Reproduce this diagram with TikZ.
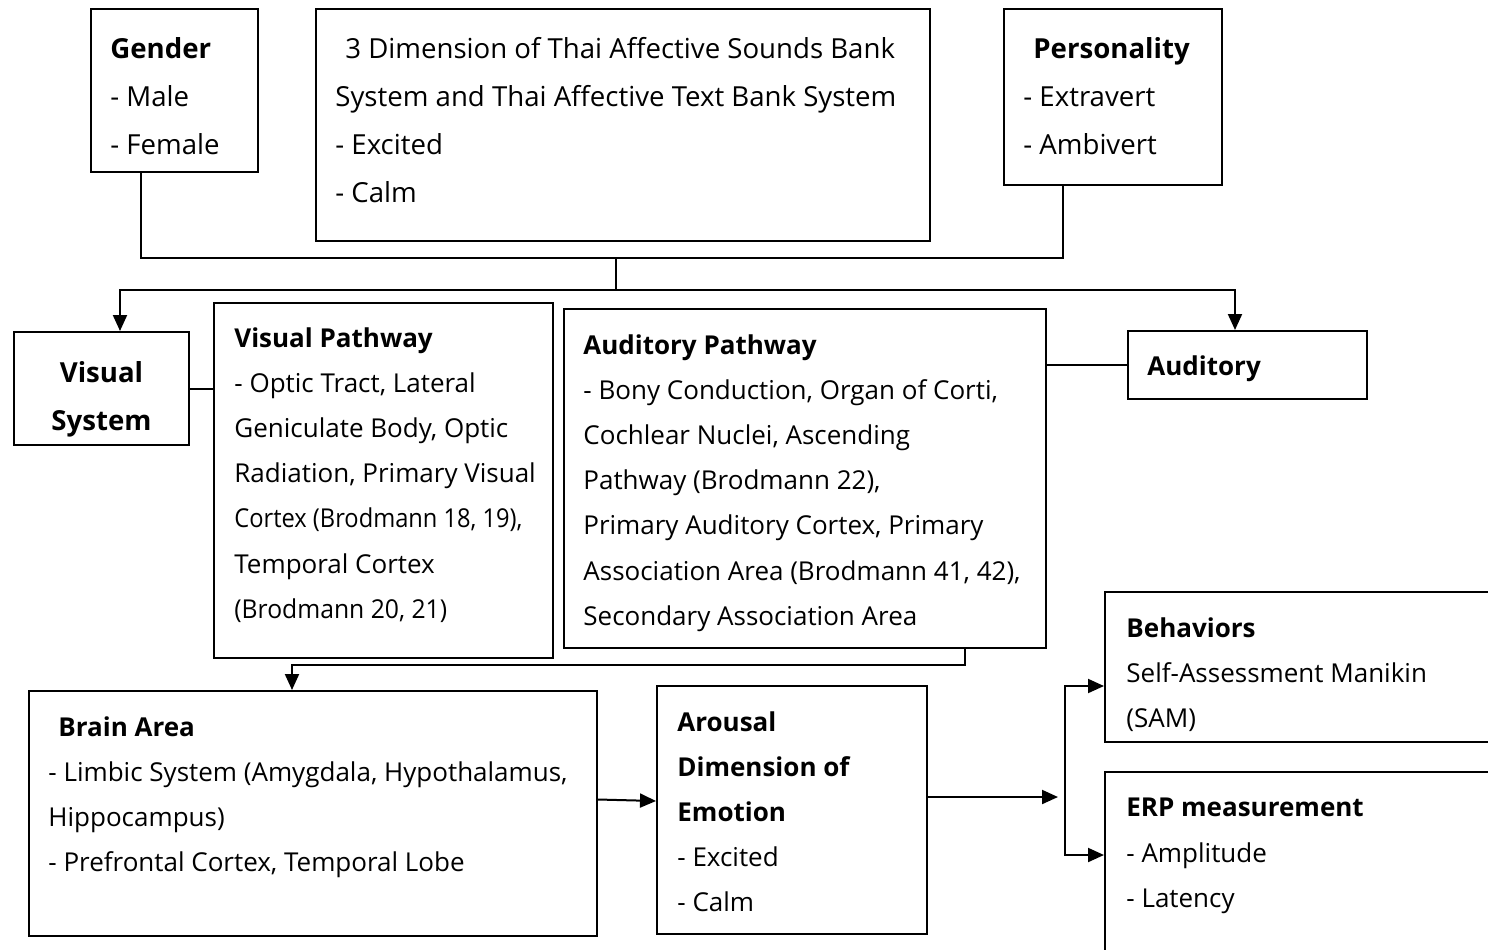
\documentclass[tikz,border=0pt]{standalone}
\usepackage{fontspec}
\setmainfont{Open Sans}
\usetikzlibrary{arrows.meta}
\tikzset{
	frame/.style={draw, line width=1pt, anchor=north west, inner sep=0pt},
	txt/.style={anchor=north west, inner sep=0pt, align=left, font=\fontsize{13}{22.6}\selectfont, execute at begin node={\rule{0pt}{10pt}}},
	wide/.style={font=\fontsize{13.8}{24}\selectfont},
	tip/.style={line width=1pt, -{Triangle[length=8pt,width=7pt]}},
	wire/.style={line width=1pt},
}

\begin{document}
\begin{tikzpicture}[x=0.5pt,y=0.5pt,yscale=-1,xscale=1]
	\useasboundingbox (0,0) rectangle (1488,949);
	\clip (0,0) rectangle (1488,949);
	\node [frame, minimum width=83.5pt, minimum height=81.5pt] (gender) at (90,8) {};
	\node [frame, minimum width=307pt, minimum height=116pt] (dims) at (315,8) {};
	\node [frame, minimum width=109pt, minimum height=88pt] (person) at (1003,8) {};
	\node [frame, minimum width=87.5pt, minimum height=56.5pt] (vissys) at (13,331) {};
	\node [frame, minimum width=169.5pt, minimum height=177.5pt] (vispath) at (213,302) {};
	\node [frame, minimum width=241pt, minimum height=169.5pt] (audpath) at (563,308) {};
	\node [frame, minimum width=119.5pt, minimum height=34pt] (auditory) at (1127,330) {};
	\node [frame, minimum width=284pt, minimum height=122.5pt] (brain) at (28,690) {};
	\node [frame, minimum width=135pt, minimum height=124pt] (arousal) at (656,685) {};
	\node [frame, minimum width=198pt, minimum height=75pt] (behav) at (1104,591) {};
	\node [frame, minimum width=198pt, minimum height=115pt] (erp) at (1104,771) {};
	\node [txt, wide] (gendertext) at ([shift={(20,29)}]gender.north west) {\textbf{Gender}\\- Male\\- Female};
	\node [txt, wide] (dimstext) at ([shift={(20,29)}]dims.north west) {\hspace*{5pt}3 Dimension of Thai Affective Sounds Bank\\System and Thai Affective Text Bank System\\- Excited\\- Calm};
	\node [txt, wide] (persontext) at ([shift={(20,29)}]person.north west) {\hspace*{5pt}\textbf{Personality}\\- Extravert\\- Ambivert};
	\node [txt, wide, anchor=north, align=center] (vissystext) at ([shift={(0,30)}]vissys.north) {\textbf{Visual}\\\textbf{System}};
	\node [txt] (vispathtext) at ([shift={(21,25)}]vispath.north west) {\textbf{Visual Pathway}\\- Optic Tract, Lateral\\Geniculate Body, Optic\\Radiation, Primary Visual\\\scalebox{0.91}[1]{Cortex (Brodmann 18, 19),}\\Temporal Cortex\\\scalebox{0.95}[1]{(Brodmann 20, 21)}};
	\node [txt] (audpathtext) at ([shift={(20,26)}]audpath.north west) {\textbf{Auditory Pathway}\\- Bony Conduction, Organ of Corti,\\Cochlear Nuclei, Ascending\\Pathway (Brodmann 22),\\Primary Auditory Cortex, Primary\\Association Area (Brodmann 41, 42),\\Secondary Association Area};
	\node [txt] (auditorytext) at ([shift={(20,25)}]auditory.north west) {\textbf{Auditory}};
	\node [txt] (braintext) at ([shift={(20,26)}]brain.north west) {\hspace*{5pt}\textbf{Brain Area}\\- Limbic System (Amygdala, Hypothalamus,\\Hippocampus)\\- Prefrontal Cortex, Temporal Lobe};
	\node [txt] (arousaltext) at ([shift={(21,26)}]arousal.north west) {\textbf{Arousal}\\\textbf{Dimension of}\\\textbf{Emotion}\\- Excited\\- Calm};
	\node [txt] (behavtext) at ([shift={(22,26)}]behav.north west) {\textbf{Behaviors}\\Self-Assessment Manikin\\(SAM)};
	\node [txt] (erptext) at ([shift={(22,27)}]erp.north west) {\textbf{ERP measurement}\\- Amplitude\\- Latency};
	\coordinate (jl) at (141,258);
	\coordinate (jr) at (1063,258);
	\coordinate (jm) at (616,258);
	\coordinate (split) at (616,290);
	\coordinate (fork) at (1058,797);
	\coordinate (bus) at (1065,797);
	\draw [wire] (gender.south -| jl) -- (jl) -- (jr) -- (person.south -| jr);
	\draw [wire] (jm) -- (split);
	\draw [tip] (split) -| ([shift={(107,0)}]vissys.north west);
	\draw [tip] (split) -| ([shift={(108,0)}]auditory.north west);
	\draw [wire] (vissys.east) -- (vissys.east -| vispath.west);
	\draw [wire] (auditory.west) -- (auditory.west -| audpath.east);
	\draw [tip] ([shift={(402,0)}]audpath.south west) -- ++(0,16) -| ([shift={(264,0)}]brain.north west);
	\draw [tip] ([shift={(0,-14)}]brain.east) -- ([shift={(0,-9)}]arousal.west);
	\draw [tip] (arousal.east |- fork) -- (fork);
	\draw [tip] ([shift={(0,-110)}]bus) |- ([shift={(0,95)}]behav.north west);
	\draw [tip] ([shift={(0,-110)}]bus) |- ([shift={(0,84)}]erp.north west);
	\end{tikzpicture}
\end{document}
